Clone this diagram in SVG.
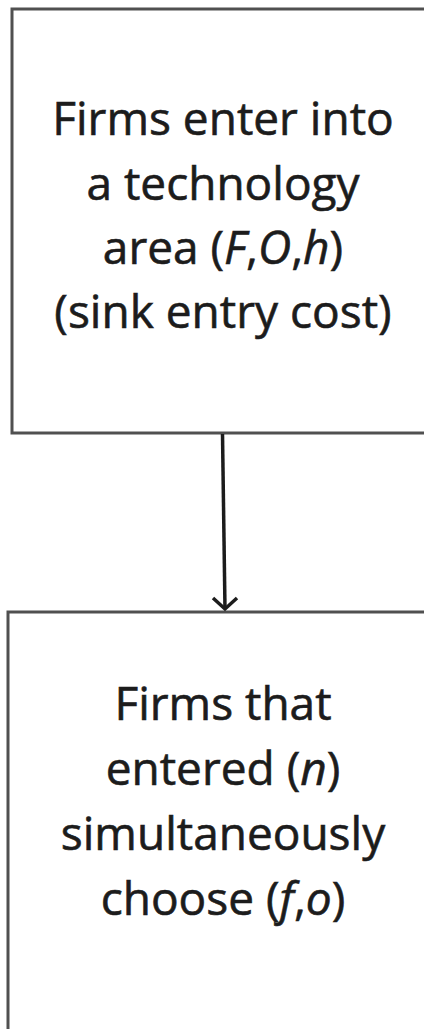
<svg xmlns="http://www.w3.org/2000/svg" width="424" height="1029" viewBox="0 0 424 1029">
  <style>
    .box { fill: #ffffff; stroke: #505050; stroke-width: 3; }
    .lbl { font-family: "Open Sans", "Liberation Sans", sans-serif; font-size: 46px; fill: #1c1c1c; stroke: #1c1c1c; stroke-width: 0.6; text-anchor: middle; }
    .it { font-style: italic; }
    .conn { stroke: #1c1c1c; stroke-width: 3.5; fill: none; }
  </style>
  <rect width="424" height="1029" fill="#ffffff"/>
  <g id="node-enter">
    <rect class="box" x="12" y="9" width="426" height="424"/>
    <text class="lbl" x="223" y="135">Firms enter into</text>
    <text class="lbl" x="223" y="200">a technology</text>
    <text class="lbl" x="223" y="264">area (<tspan class="it">F</tspan>,<tspan class="it">O</tspan>,<tspan class="it">h</tspan>)</text>
    <text class="lbl" x="223" y="328">(sink entry cost)</text>
  </g>
  <g id="node-choose">
    <rect class="box" x="8" y="612" width="430" height="420"/>
    <text class="lbl" x="223" y="720">Firms that</text>
    <text class="lbl" x="223" y="785">entered (<tspan class="it">n</tspan>)</text>
    <text class="lbl" x="223" y="850">simultaneously</text>
    <text class="lbl" x="223" y="915">choose (<tspan class="it">f</tspan>,<tspan class="it">o</tspan>)</text>
  </g>
  <g id="connectors">
    <line class="conn" x1="222.5" y1="434" x2="225" y2="609"/>
    <path class="conn" d="M213,598 L225,609 L237,598"/>
  </g>
</svg>
